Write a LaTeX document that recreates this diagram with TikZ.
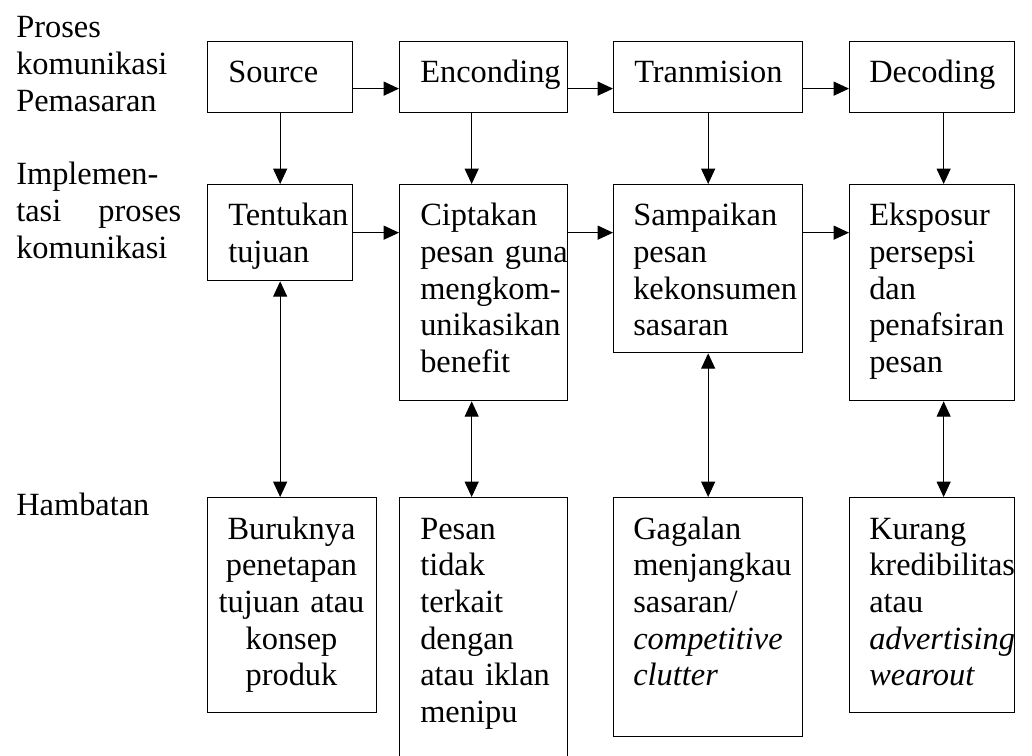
\documentclass[tikz,border=0pt]{standalone}
\usepackage{fontspec}
\setmainfont{Liberation Serif}
\usetikzlibrary{arrows.meta}
\begin{document}
\begin{tikzpicture}[x=0.75pt,y=-0.75pt,
  box/.style 2 args={draw, line width=1pt, inner sep=0pt, anchor=north west,
    minimum width=#1*0.75pt, minimum height=#2*0.75pt},
  lbl/.style={inner sep=0pt, anchor=base west, align=left, text width=#1*0.75pt,
    font=\fontsize{24.3}{27.5}\selectfont},
  lblc/.style={inner sep=0pt, anchor=base, align=center, text width=#1*0.75pt,
    font=\fontsize{24.3}{27.5}\selectfont},
  tip/.tip={Triangle[length=11.5pt,width=10.5pt]},
  arr/.style={-tip, line width=0.8pt},
  darr/.style={tip-tip, line width=0.8pt}]
  \clip (0,0) rectangle (1032,756);
  \fill[white] (0,0) rectangle (1032,756);

  % row labels
  \node[lbl=175] (lp) at (16,38) {Proses\\komunikasi\\Pemasaran};
  \node[lbl=165] (li) at (16,185) {Implemen-\\tasi\hfill proses\\komunikasi};
  \node[lbl=175] (lh) at (16,515) {Hambatan};

  % process row
  \node[box={145}{71}] (src) at (207,41) {};
  \node[box={168}{71}] (enc) at (399,41) {};
  \node[box={189}{71}] (tra) at (613,41) {};
  \node[box={165}{71}] (dec) at (849,41) {};
  \node[lbl=160] (srcT) at (228,83) {Source};
  \node[lbl=160] (encT) at (420,83) {Enconding};
  \node[lbl=180] (traT) at (634,83) {Tranmision};
  \node[lbl=160] (decT) at (869,83) {Decoding};

  % implementation row
  \node[box={145}{96}] (tent) at (207,184) {};
  \node[box={168}{216}] (cip) at (399,184) {};
  \node[box={189}{168}] (samp) at (613,184) {};
  \node[box={165}{216}] (eks) at (849,184) {};
  \node[lbl=160] (tentT) at (228,226) {Tentukan\\tujuan};
  \node[lbl=160] (cipT) at (420,226) {Ciptakan\\pesan guna\\mengkom-\\unikasikan\\benefit};
  \node[lbl=180] (sampT) at (633,226) {Sampaikan\\pesan\\kekonsumen\\sasaran};
  \node[lbl=160] (eksT) at (869,226) {Eksposur\\persepsi\\dan\\penafsiran\\pesan};

  % barrier row
  \node[box={169}{215}] (bur) at (207,497) {};
  \node[box={168}{290}] (pes) at (399,497) {};
  \node[box={189}{239}] (gag) at (613,497) {};
  \node[box={165}{215}] (kur) at (849,497) {};
  \node[lblc=169] (burT) at (291.5,539) {Buruknya\\penetapan\\tujuan atau\\konsep\\produk};
  \node[lbl=160] (pesT) at (420,539) {Pesan\\tidak\\terkait\\dengan\\atau iklan\\menipu};
  \node[lbl=180] (gagT) at (633,539) {Gagalan\\menjangkau\\sasaran/\\\textit{competitive}\\\textit{clutter}};
  \node[lbl=160] (kurT) at (869,539) {Kurang\\kredibilitas\\atau\\\textit{advertising}\\\textit{wearout}};

  % process flow
  \draw[arr] ([yshift=-8.6pt]src.east) -- ([yshift=-8.6pt]enc.west);
  \draw[arr] ([yshift=-8.6pt]enc.east) -- ([yshift=-8.6pt]tra.west);
  \draw[arr] ([yshift=-8.6pt]tra.east) -- ([yshift=-8.6pt]dec.west);

  % process to implementation
  \draw[arr] (src.south) -- (tent.north);
  \draw[arr] ([xshift=-9pt]enc.south) -- ([xshift=-9pt]cip.north);
  \draw[arr] (tra.south) -- (samp.north);
  \draw[arr] ([xshift=8.6pt]dec.south) -- ([xshift=8.6pt]eks.north);

  % implementation flow
  \draw[arr] (tent.east) -- (tent.east -| cip.west);
  \draw[arr] (cip.east |- tent.east) -- (samp.west |- tent.east);
  \draw[arr] (samp.east |- tent.east) -- (eks.west |- tent.east);

  % implementation <-> barriers
  \draw[darr] (tent.south) -- (tent.south |- bur.north);
  \draw[darr] ([xshift=-9pt]cip.south) -- ([xshift=-9pt]pes.north);
  \draw[darr] (samp.south) -- (samp.south |- gag.north);
  \draw[darr] ([xshift=8.6pt]eks.south) -- ([xshift=8.6pt]kur.north);
\end{tikzpicture}
\end{document}
